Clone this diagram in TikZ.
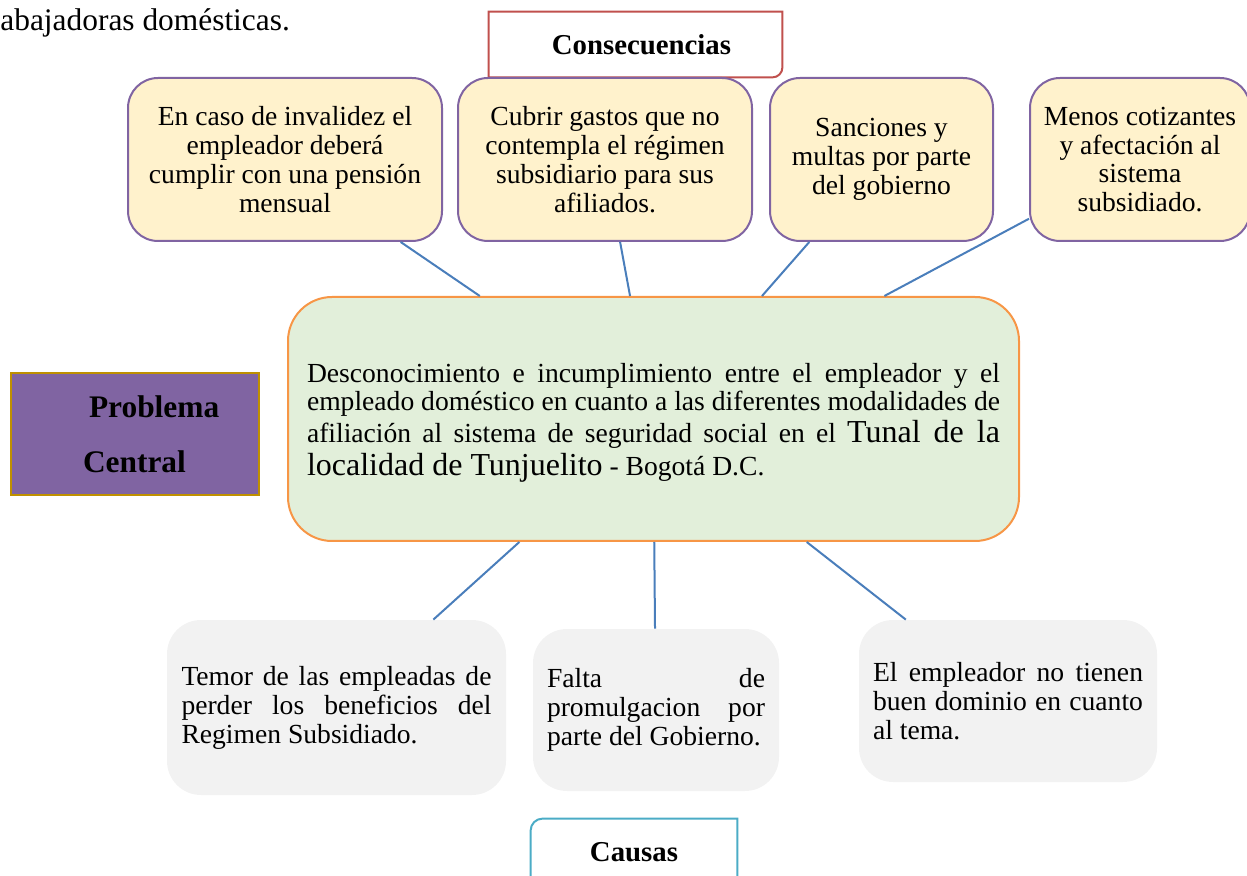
\documentclass[tikz,border=0pt]{standalone}
\usepackage{fontspec}
\setmainfont{Liberation Serif}
\usetikzlibrary{calc}
\definecolor{crema}{HTML}{FFF2CC}
\definecolor{lila}{HTML}{8064A2}
\definecolor{verde}{HTML}{E2EFDA}
\definecolor{naranja}{HTML}{F79646}
\definecolor{oro}{HTML}{BF9000}
\definecolor{gris}{HTML}{F2F2F2}
\definecolor{rojo}{HTML}{C0504D}
\definecolor{turquesa}{HTML}{4BACC6}
\definecolor{azul}{HTML}{4A7EBB}
\tikzset{
  consbox/.style={draw=lila, fill=crema, line width=1pt, rounded corners=15pt,
    minimum height=81.5pt, inner sep=0pt, align=center,
    font=\fontsize{13.8}{14.4}\selectfont},
  causabox/.style={fill=gris, rounded corners=17pt, inner sep=0pt, align=justify,
    font=\fontsize{13.8}{14.5}\selectfont},
  titulo/.style={inner sep=0pt, font=\bfseries\fontsize{14.4}{16}\selectfont},
  link/.style={draw=azul, line width=1pt}
}

\begin{document}
\begin{tikzpicture}[x=0.5pt, y=-0.5pt]
  \clip (0,0) rectangle (1247,876);
  \node[anchor=base west, inner sep=0pt, font=\fontsize{15.7}{18}\selectfont]
    (intro) at (0,31) {abajadoras domésticas.};
  \node[titulo, minimum width=146.5pt, minimum height=32.5pt] (cons) at (635.5,44.5) {\hspace*{6pt}Consecuencias};
  \draw[rojo, line width=1pt] (cons.east) [rounded corners=5pt] -- (cons.south east) -- (cons.south)
    [sharp corners] -- (cons.south west) -- (cons.north west) -- (cons.north east) -- cycle;
  \node[consbox, minimum width=157pt] (c1) at (285,159.5)
    {En caso de invalidez el\\empleador deberá\\cumplir con una pensión\\mensual};
  \node[consbox, minimum width=147pt] (c2) at (605,159.5)
    {Cubrir gastos que no\\contempla el régimen\\subsidiario para sus\\afiliados.};
  \node[consbox, minimum width=111.5pt] (c3) at (881.5,159.5)
    {Sanciones y\\multas por parte\\del gobierno};
  \node[consbox, minimum width=110pt] (c4) at (1140,159.5)
    {Menos cotizantes\\y afectación al\\sistema\\subsidiado.};
  \node[draw=naranja, fill=verde, line width=1pt, rounded corners=22pt, inner sep=0pt,
    minimum width=365.5pt, minimum height=122pt, text width=346.5pt, align=justify,
    font=\fontsize{13.8}{14}\selectfont] (cen) at (653.5,419)
    {\rule{0pt}{13.4pt}Desconocimiento e incumplimiento entre el empleador y el\linebreak
     empleado doméstico en cuanto a las diferentes modalidades de\linebreak
     \rule{0pt}{12pt}afiliación al sistema de seguridad social en el {\fontsize{16}{14}\selectfont Tunal de la}\linebreak
     \rule{0pt}{12.5pt}{\fontsize{16}{14}\selectfont localidad de Tunjuelito} - Bogotá D.C.};
  \node[draw=oro, fill=lila, line width=1pt, inner sep=0pt, minimum width=124pt,
    minimum height=61pt, text width=76pt, align=left,
    font=\bfseries\fontsize{15.7}{27.5}\selectfont] (prob) at (135,434)
    {\hspace*{15pt}\mbox{Problema}\\\hspace*{12pt}\mbox{Central}};
  \node[causabox, minimum width=169.5pt, minimum height=87.5pt, text width=155pt] (k1) at (336.5,707.5)
    {Temor de las empleadas de\linebreak perder los beneficios del\linebreak Regimen Subsidiado.};
  \node[causabox, minimum width=123pt, minimum height=81pt, text width=109pt] (k2) at (656,710)
    {Falta de\linebreak promulgacion por\linebreak parte del Gobierno.};
  \node[causabox, minimum width=149pt, minimum height=81pt, text width=135pt] (k3) at (1008,701)
    {El empleador no tienen\linebreak buen dominio en cuanto\linebreak al tema.};
  \node[titulo, minimum width=103pt, minimum height=33pt] (causas) at (634,852) {Causas};
  \draw[turquesa, line width=1pt] (causas.north) -- (causas.north east) -- (causas.south east)
    -- (causas.south west) -- (causas.west) [rounded corners=6pt] -- (causas.north west) -- (causas.north);
  \draw[link] ($(c1.south west)!0.866!(c1.south east)$) -- ($(cen.north west)!0.263!(cen.north east)$);
  \draw[link] ($(c2.south west)!0.551!(c2.south east)$) -- ($(cen.north west)!0.468!(cen.north east)$);
  \draw[link] ($(c3.south west)!0.179!(c3.south east)$) -- ($(cen.north west)!0.648!(cen.north east)$);
  \draw[link] ($(c4.north west)!0.859!(c4.south west)$) -- ($(cen.north west)!0.815!(cen.north east)$);
  \draw[link] ($(cen.south west)!0.317!(cen.south east)$) -- ($(k1.north west)!0.785!(k1.north east)$);
  \draw[link] ($(cen.south west)!0.501!(cen.south east)$) -- ($(k2.north west)!0.496!(k2.north east)$);
  \draw[link] ($(cen.south west)!0.709!(cen.south east)$) -- ($(k3.north west)!0.158!(k3.north east)$);
\end{tikzpicture}
\end{document}
